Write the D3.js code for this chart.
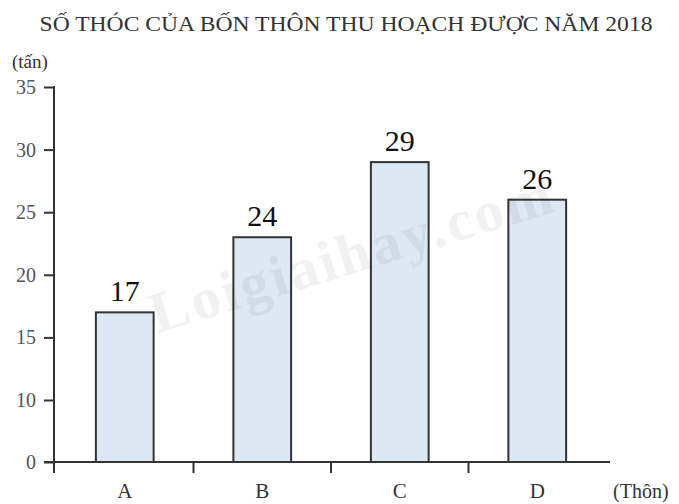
<!DOCTYPE html>
<html lang="vi">
  <head>
    <meta charset="UTF-8" />
    <script src="https://d3js.org/d3.v7.min.js"></script>
    <title>Số thóc</title>
    <style>
      body { margin: 0; background: #fff; }
      text { font-family: "Liberation Serif", "DejaVu Serif", serif; }
    </style>
  </head>
  <body>
    <script>
      // data
      const villages = ["A", "B", "C", "D"];
      const barHeights = [17, 23, 29, 26];      // drawn height of each bar
      const barLabels = ["17", "24", "29", "26"]; // numbers written above bars
      const yTicks = [0, 10, 15, 20, 25, 30, 35];

      const width = 679, height = 504;
      const svg = d3.select("body").append("svg")
        .attr("width", width)
        .attr("height", height);

      // broken axis: 0..10 is squeezed to the size of one 5-step
      const y = d3.scaleLinear().domain([0, 10, 35]).range([462, 400, 87]);
      const x = d3.scaleBand().domain(villages).range([56, 606])
        .paddingInner(0.58).paddingOuter(0.29);

      // title
      svg.append("text")
        .attr("x", 346).attr("y", 31)
        .attr("text-anchor", "middle")
        .attr("font-size", 22)
        .attr("fill", "#333")
        .attr("textLength", 613)
        .attr("lengthAdjust", "spacingAndGlyphs")
        .text("SỐ THÓC CỦA BỐN THÔN THU HOẠCH ĐƯỢC NĂM 2018");

      svg.append("text")
        .attr("x", 12).attr("y", 68)
        .attr("font-size", 19)
        .attr("fill", "#333")
        .text("(tấn)");

      // bars
      svg.selectAll("rect.bar")
        .data(villages)
        .join("rect")
        .attr("class", "bar")
        .attr("x", (d) => x(d))
        .attr("y", (d, i) => y(barHeights[i]))
        .attr("width", x.bandwidth())
        .attr("height", (d, i) => y(0) - y(barHeights[i]))
        .attr("fill", "#dde8f5")
        .attr("stroke", "#333")
        .attr("stroke-width", 2);

      svg.selectAll("text.val")
        .data(villages)
        .join("text")
        .attr("class", "val")
        .attr("x", (d) => x(d) + x.bandwidth() / 2)
        .attr("y", (d, i) => y(barHeights[i]) - 11)
        .attr("text-anchor", "middle")
        .attr("font-size", 30)
        .attr("fill", "#111")
        .text((d, i) => barLabels[i]);

      // y axis
      const axisY = d3.axisLeft(y)
        .tickValues(yTicks)
        .tickSize(10)
        .tickPadding(8);
      const gy = svg.append("g").attr("transform", "translate(54,0)");
      axisY(gy);
      gy.select(".domain").remove();
      gy.selectAll(".tick line").attr("stroke", "#333").attr("stroke-width", 2);
      gy.selectAll(".tick text")
        .attr("font-family", "Liberation Serif, serif")
        .attr("font-size", 20)
        .attr("fill", "#555");
      gy.append("line")
        .attr("x1", 0).attr("x2", 0)
        .attr("y1", y(35) - 1).attr("y2", y(0) + 11)
        .attr("stroke", "#333").attr("stroke-width", 2);

      // x axis
      const gx = svg.append("g");
      gx.append("line")
        .attr("x1", 44).attr("x2", 610)
        .attr("y1", y(0)).attr("y2", y(0))
        .attr("stroke", "#333").attr("stroke-width", 2);
      const gap = (x.step() - x.bandwidth()) / 2;
      gx.selectAll("line.sep")
        .data(villages.slice(1))
        .join("line")
        .attr("class", "sep")
        .attr("x1", (d) => x(d) - gap).attr("x2", (d) => x(d) - gap)
        .attr("y1", y(0)).attr("y2", y(0) + 11)
        .attr("stroke", "#333").attr("stroke-width", 2);
      gx.selectAll("text.cat")
        .data(villages)
        .join("text")
        .attr("class", "cat")
        .attr("x", (d) => x(d) + x.bandwidth() / 2)
        .attr("y", 498)
        .attr("text-anchor", "middle")
        .attr("font-size", 21)
        .attr("fill", "#333")
        .text((d) => d);
      gx.append("text")
        .attr("x", 613).attr("y", 498)
        .attr("font-size", 20)
        .attr("fill", "#333")
        .text("(Thôn)");

      // watermark, faint and on top of everything
      svg.append("text")
        .attr("transform", "translate(358,272) rotate(-17)")
        .attr("text-anchor", "middle")
        .attr("font-size", 58)
        .attr("font-weight", "bold")
        .attr("letter-spacing", 3)
        .attr("fill", "#000")
        .attr("opacity", 0.05)
        .text("Loigiaihay.com");
    </script>
  </body>
</html>
